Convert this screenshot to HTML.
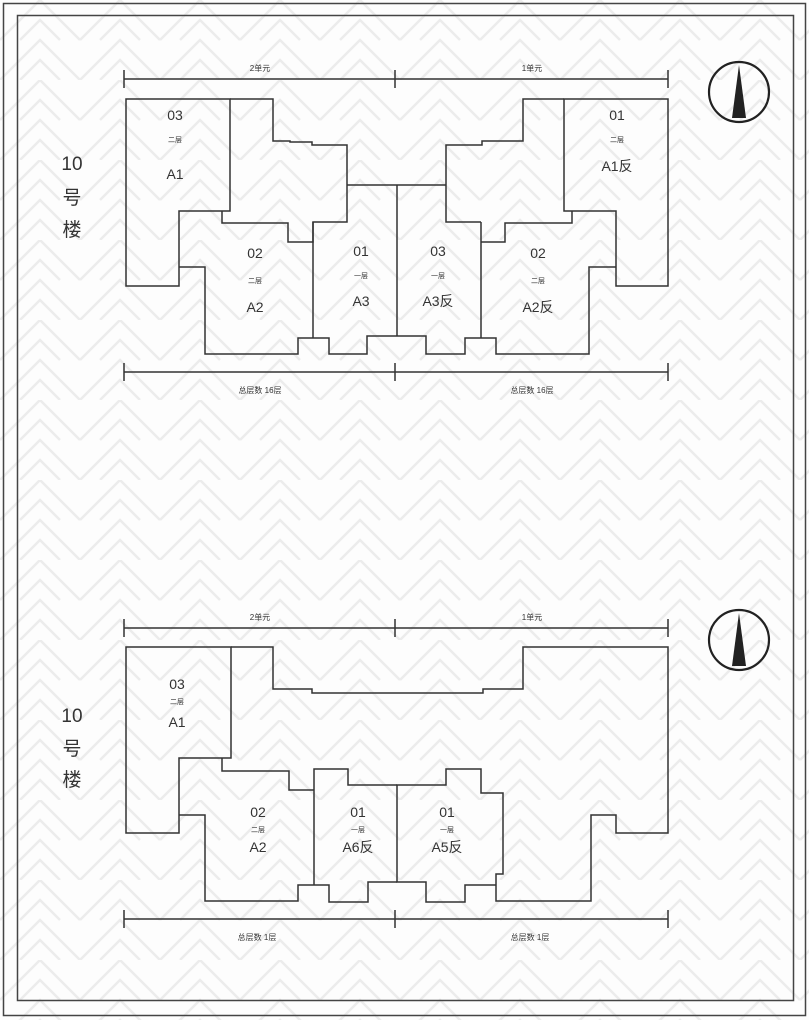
<!DOCTYPE html>
<html><head><meta charset="utf-8"><style>
html,body{margin:0;padding:0;background:#fff;}
svg{display:block;}
text{font-family:"Liberation Sans","Noto Sans CJK SC",sans-serif;fill:#333;}
</style></head><body>
<svg width="809" height="1020" viewBox="0 0 809 1020" xmlns="http://www.w3.org/2000/svg">
<defs>
<pattern id="p" width="80" height="80" patternUnits="userSpaceOnUse">
<g stroke="#ececec" stroke-width="2.5" fill="none">
<path d="M0 40 L40 0 L80 40"/>
<path d="M0 80 L40 40 L80 80"/>
<path d="M20 40 L40 20 L60 40"/>
<path d="M20 80 L40 60 L60 80"/>
</g>
</pattern>
</defs>
<rect width="809" height="1020" fill="#fdfdfd"/>
<rect width="809" height="1020" fill="url(#p)"/>
<rect x="3.5" y="3.5" width="802" height="1012" fill="none" stroke="#444" stroke-width="1.5"/>
<rect x="17.5" y="15.5" width="776" height="985" fill="none" stroke="#444" stroke-width="1.5"/>

<g stroke="#333" stroke-width="1.5" fill="none">
<path d="M124 79 H668 M124 70 V88 M395 70 V88 M668 70 V88"/>
<path d="M124 372 H668 M124 363 V381 M395 363 V381 M668 363 V381"/>
<path d="M230 99 H126 V286 H179 V211 H230 Z"/>
<path d="M230 99 H273 V141 H290 V142 H312 V145 H347 V222 H313 V242 H288 V223 H222 V211"/>
<path d="M347 185 H446"/>
<path d="M179 267 H205 V354 H298 V338 H329 V354 H367 V336 H426 V354 H465 V338 H496 V354 H589 V267 H616"/>
<path d="M313 222 V338 M397 185 V336 M481 222 V338"/>
<path d="M564 99 H668 V286 H616 V211 H564 Z"/>
<path d="M564 99 H523 V141 H482 V145 H446 V222 H481 M572 211 V223 H505 V242 H481"/>
<path d="M124 628 H668 M124 619 V637 M395 619 V637 M668 619 V637"/>
<path d="M124 919 H668 M124 910 V928 M395 910 V928 M668 910 V928"/>
<path d="M231 647 H126 V833 H179 V758 H231 Z"/>
<path d="M231 647 H273 V689 H312 V693 H483 V689 H523 V647 H668 V833 H616 V815 H591 V901 H496 V874 H503 V793 H481 V769 H446 V785 H397 V882 H426 V902 H465 V885 H496"/>
<path d="M179 815 H205 V901 H298 V885 H314 V769 H348 V785 H397 M314 885 H329 V902 H368 V882 H397"/>
<path d="M222 758 V771 H289 V790 H314"/>
</g>

<g stroke="#222" stroke-width="2.2" fill="none">
<circle cx="739" cy="92" r="30"/>
<circle cx="739" cy="640" r="30"/>
</g>
<path d="M739 65 L732 118 L746 118 Z" fill="#222"/>
<path d="M739 613 L732 666 L746 666 Z" fill="#222"/>

<g text-anchor="middle">
<text x="260" y="71" font-size="8">2单元</text>
<text x="532" y="71" font-size="8">1单元</text>
<text x="260" y="393" font-size="8">总层数 16层</text>
<text x="532" y="393" font-size="8">总层数 16层</text>
<text x="260" y="620" font-size="8">2单元</text>
<text x="532" y="620" font-size="8">1单元</text>
<text x="257" y="940" font-size="8">总层数 1层</text>
<text x="530" y="940" font-size="8">总层数 1层</text>

<g font-size="19">
<text x="72" y="170">10</text><text x="72" y="204">号</text><text x="72" y="236">楼</text>
<text x="72" y="722">10</text><text x="72" y="755">号</text><text x="72" y="786">楼</text>
</g>

<g font-size="14">
<text x="175" y="120">03</text><text x="175" y="179">A1</text>
<text x="255" y="258">02</text><text x="255" y="312">A2</text>
<text x="361" y="256">01</text><text x="361" y="306">A3</text>
<text x="438" y="256">03</text><text x="438" y="306">A3反</text>
<text x="538" y="258">02</text><text x="538" y="312">A2反</text>
<text x="617" y="120">01</text><text x="617" y="171">A1反</text>
<text x="177" y="689">03</text><text x="177" y="727">A1</text>
<text x="258" y="817">02</text><text x="258" y="852">A2</text>
<text x="358" y="817">01</text><text x="358" y="852">A6反</text>
<text x="447" y="817">01</text><text x="447" y="852">A5反</text>
</g>
<g font-size="7">
<text x="175" y="142">二层</text>
<text x="255" y="283">二层</text>
<text x="361" y="278">一层</text>
<text x="438" y="278">一层</text>
<text x="538" y="283">二层</text>
<text x="617" y="142">二层</text>
<text x="177" y="704">二层</text>
<text x="258" y="832">二层</text>
<text x="358" y="832">一层</text>
<text x="447" y="832">一层</text>
</g>
</g>
</svg>
</body></html>
